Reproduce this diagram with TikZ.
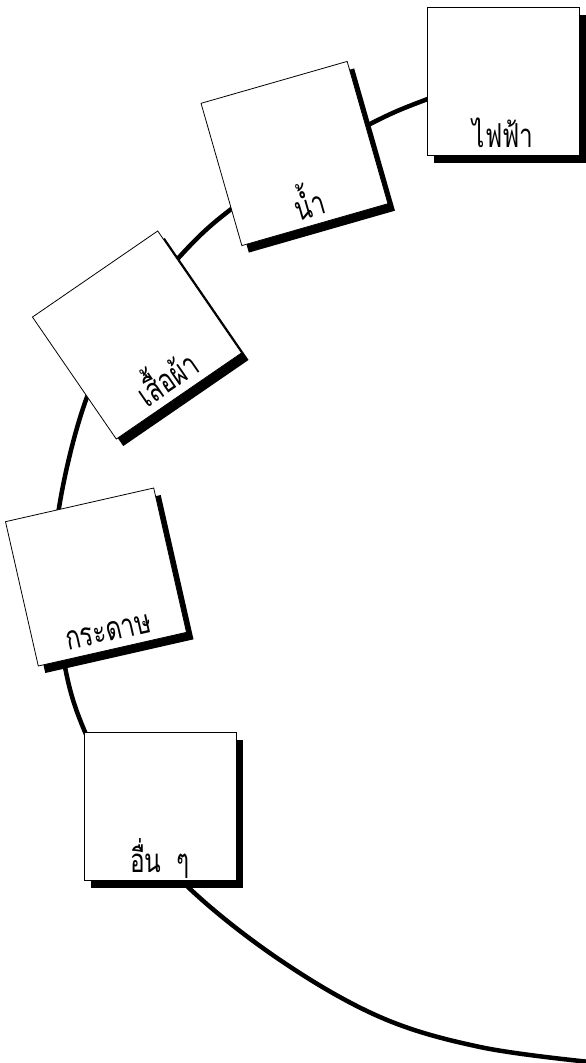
\documentclass[tikz,border=0pt]{standalone}
\usepackage{fontspec}
\newfontfamily\thaifont[Script=Thai,FakeStretch=0.74]{Loma}
\usetikzlibrary{shadows}

\begin{document}
\begin{tikzpicture}[x=1pt,y=-1pt,
  topic/.style={draw=black,line width=0.8pt,fill=white,inner sep=0pt,
    minimum width=152pt,text height=140pt,text depth=8pt,
    font=\thaifont\fontsize{33}{36}\selectfont,
    drop shadow={opacity=1,fill=black,shadow xshift=7pt,shadow yshift=-7pt}}]
\useasboundingbox (0,0) rectangle (586,1063);
% the ring that runs behind the topics
\draw[line width=4.5pt] plot[smooth,tension=0.6] coordinates {(505,72) (425,100) (374,122) (300,163) (230,210) (183,253) (130,318) (87,397) (59,508) (57,588) (65,667) (85,732) (128,815) (188,887) (280,960) (380,1017) (480,1047) (590,1062)};
\node[topic] (power) at (503,81.5) {ไฟฟ้า};
\node[topic,rotate=16] (water) at (294.5,153.5) {น้ำ};
\node[topic,rotate=34.5] (clothes) at (137,335) {เสื้อผ้า};
\node[topic,rotate=12.8] (paper) at (96,577) {กระดาษ};
\node[topic] (others) at (160,806.5) {อื่น\hspace{0.45em}ๆ};
\end{tikzpicture}
\end{document}
